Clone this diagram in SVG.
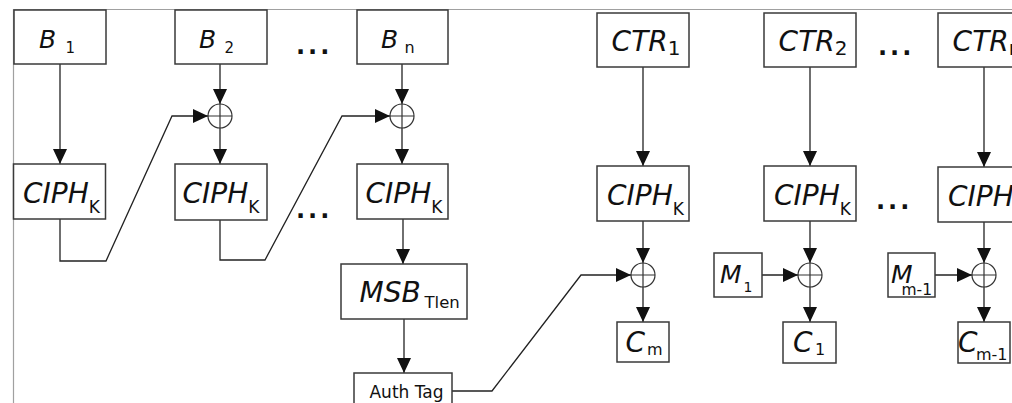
<svg xmlns="http://www.w3.org/2000/svg" width="1012" height="403" viewBox="0 0 1012 403">
  <style>
    .frame { stroke: #a0a0a0; stroke-width: 1.2; fill: none; }
    .box { fill: #fff; stroke: #3a3a3a; stroke-width: 1.5; }
    .wire { fill: none; stroke: #222; stroke-width: 1.3; }
    .xor { fill: none; stroke: #333; stroke-width: 1.2; }
    .lbl { font-family: "DejaVu Sans", sans-serif; fill: #111; }
    .it { font-style: italic; }
    .dots { font-family: "DejaVu Sans", sans-serif; font-weight: bold; font-size: 24px; letter-spacing: 3px; fill: #111; }
  </style>
  <defs>
    <marker id="arrow" markerUnits="userSpaceOnUse" markerWidth="15" markerHeight="14" viewBox="0 0 15 14" refX="15" refY="7" orient="auto">
      <path d="M0,0 L15,7 L0,14 z" fill="#111"/>
    </marker>
    <g id="xorSym">
      <circle cx="0" cy="0" r="12" class="xor"/>
      <path d="M-12,0 H12 M0,-12 V12" class="xor"/>
    </g>
  </defs>

  <rect width="1012" height="403" fill="#fff"/>
  <path class="frame" d="M13.5,403 V9.5 H1012"/>

  <!-- connectors -->
  <g id="connectors" class="wire" marker-end="url(#arrow)">
    <path d="M60,64 V164"/>
    <path d="M220,64 V104"/>
    <path d="M220,128 V164"/>
    <path d="M60,219 V261 H106 L172,116 H208"/>
    <path d="M402,64 V104"/>
    <path d="M402,128 V164"/>
    <path d="M220,220 V260 H265 L342,116 H390"/>
    <path d="M403,219 V264"/>
    <path d="M404,319 V373"/>
    <path d="M452,391 H492 L581,275 H631"/>
    <path d="M643,67 V166"/>
    <path d="M643,221 V263"/>
    <path d="M643,287 V322"/>
    <path d="M810,67 V166"/>
    <path d="M810,221 V263"/>
    <path d="M762,275 H798"/>
    <path d="M810,287 V322"/>
    <path d="M984,67 V167"/>
    <path d="M984,222 V263"/>
    <path d="M935,275 H972"/>
    <path d="M984,287 V322"/>
  </g>

  <!-- XOR combiners -->
  <g id="xor-b2"><use href="#xorSym" x="220" y="116"/></g>
  <g id="xor-bn"><use href="#xorSym" x="402" y="116"/></g>
  <g id="xor-cm"><use href="#xorSym" x="643" y="275"/></g>
  <g id="xor-c1"><use href="#xorSym" x="810" y="275"/></g>
  <g id="xor-cm1"><use href="#xorSym" x="984" y="275"/></g>

  <!-- input blocks -->
  <g id="b1">
    <rect class="box" x="14" y="10" width="92" height="54"/>
    <text class="lbl it" x="39" y="47.5" font-size="25">B</text>
    <text class="lbl" x="65.5" y="53" font-size="15">1</text>
  </g>
  <g id="b2">
    <rect class="box" x="175" y="10" width="92" height="54"/>
    <text class="lbl it" x="199" y="47.5" font-size="25">B</text>
    <text class="lbl" x="224.5" y="53" font-size="15">2</text>
  </g>
  <g id="bn">
    <rect class="box" x="357" y="10" width="91" height="54"/>
    <text class="lbl it" x="381" y="47.5" font-size="25">B</text>
    <text class="lbl" x="404.5" y="53" font-size="16">n</text>
  </g>
  <text class="dots" x="296" y="54">...</text>

  <!-- block cipher stages (MAC side) -->
  <g id="ciph1">
    <rect class="box" x="13.5" y="164" width="92" height="55"/>
    <text class="lbl" x="61.5" y="203" text-anchor="middle"><tspan class="it" font-size="28">CIPH</tspan><tspan font-size="17" dy="10">K</tspan></text>
  </g>
  <g id="ciph2">
    <rect class="box" x="175" y="164" width="92" height="56"/>
    <text class="lbl" x="221" y="203" text-anchor="middle"><tspan class="it" font-size="28">CIPH</tspan><tspan font-size="17" dy="10">K</tspan></text>
  </g>
  <g id="ciphn">
    <rect class="box" x="357" y="164" width="91" height="55"/>
    <text class="lbl" x="404" y="203" text-anchor="middle"><tspan class="it" font-size="28">CIPH</tspan><tspan font-size="17" dy="10">K</tspan></text>
  </g>
  <text class="dots" x="296" y="218">...</text>

  <g id="msb">
    <rect class="box" x="341" y="264" width="126" height="55"/>
    <text class="lbl it" x="359.5" y="302" font-size="28">MSB</text>
    <text class="lbl" x="424.5" y="308" font-size="16.5">Tlen</text>
  </g>
  <g id="authtag">
    <rect class="box" x="354" y="373" width="98" height="40"/>
    <text class="lbl" x="406.5" y="398" font-size="17" text-anchor="middle">Auth Tag</text>
  </g>

  <!-- counter blocks -->
  <g id="ctr1">
    <rect class="box" x="597" y="13" width="92" height="54"/>
    <text class="lbl" x="646" y="51" text-anchor="middle"><tspan class="it" font-size="28">CTR</tspan><tspan font-size="20" dy="4">1</tspan></text>
  </g>
  <g id="ctr2">
    <rect class="box" x="764" y="13" width="92" height="54"/>
    <text class="lbl" x="813" y="51" text-anchor="middle"><tspan class="it" font-size="28">CTR</tspan><tspan font-size="20" dy="4">2</tspan></text>
  </g>
  <g id="ctrn">
    <rect class="box" x="938" y="13" width="92" height="54"/>
    <text class="lbl" x="987" y="51" text-anchor="middle"><tspan class="it" font-size="28">CTR</tspan><tspan font-size="20" dy="4">n</tspan></text>
  </g>
  <text class="dots" x="878" y="55">...</text>

  <!-- block cipher stages (CTR side) -->
  <g id="ciph-ctr1">
    <rect class="box" x="597" y="166" width="92" height="55"/>
    <text class="lbl" x="645.5" y="205" text-anchor="middle"><tspan class="it" font-size="28">CIPH</tspan><tspan font-size="17" dy="10">K</tspan></text>
  </g>
  <g id="ciph-ctr2">
    <rect class="box" x="764" y="166" width="92" height="55"/>
    <text class="lbl" x="812.5" y="205" text-anchor="middle"><tspan class="it" font-size="28">CIPH</tspan><tspan font-size="17" dy="10">K</tspan></text>
  </g>
  <g id="ciph-ctrn">
    <rect class="box" x="938" y="167" width="92" height="55"/>
    <text class="lbl" x="986.5" y="206" text-anchor="middle"><tspan class="it" font-size="28">CIPH</tspan><tspan font-size="17" dy="10">K</tspan></text>
  </g>
  <text class="dots" x="876" y="209">...</text>

  <!-- plaintext inputs -->
  <g id="m1">
    <rect class="box" x="714" y="253" width="48" height="44"/>
    <text class="lbl it" x="720" y="283" font-size="25">M</text>
    <text class="lbl" x="743.5" y="292" font-size="14">1</text>
  </g>
  <g id="mm1">
    <rect class="box" x="888" y="253" width="47" height="44"/>
    <text class="lbl it" x="891" y="283" font-size="25">M</text>
    <text class="lbl" x="901.5" y="295" font-size="15.5">m-1</text>
  </g>

  <!-- outputs -->
  <g id="cm">
    <rect class="box" x="617" y="322" width="52" height="40"/>
    <text class="lbl it" x="625.5" y="352" font-size="28">C</text>
    <text class="lbl" x="647" y="355" font-size="16">m</text>
  </g>
  <g id="c1">
    <rect class="box" x="783" y="322" width="53" height="41"/>
    <text class="lbl it" x="793" y="352" font-size="28">C</text>
    <text class="lbl" x="815" y="355" font-size="16">1</text>
  </g>
  <g id="cm-1">
    <rect class="box" x="958" y="322" width="52" height="41"/>
    <text class="lbl it" x="958" y="352" font-size="28">C</text>
    <text class="lbl" x="976" y="360" font-size="16">m-1</text>
  </g>
</svg>
